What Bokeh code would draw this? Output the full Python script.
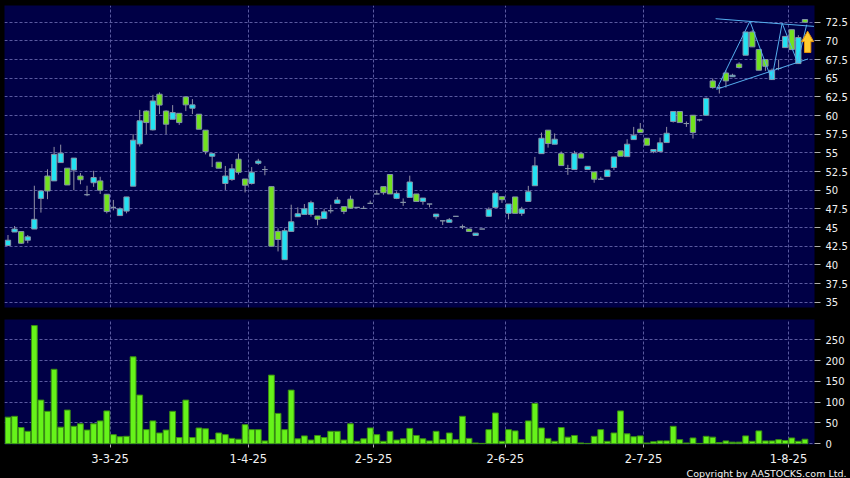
from bokeh.plotting import figure
from bokeh.layouts import column
from bokeh.models import (ColumnDataSource, FixedTicker, Range1d, Title,
                          NumeralTickFormatter, CustomJSTickFormatter,
                          GlobalInlineStyleSheet)
from bokeh.embed import file_html
from bokeh.resources import INLINE

# ---------------- data ----------------
opens = [42.6, 44.4, 44.46, 43.3, 44.8, 48.9, 51.9, 51.25, 53.7, 52.95,
         52.7, 51.9, 49.4, 51.0, 51.25, 49.46, 47.7, 46.6, 47.2, 50.54,
         56.2, 60.6, 58.08, 62.86, 60.6, 59.5, 60.3, 62.5, 60.98, 60.18,
         58.04, 54.55, 53.75, 50.9, 51.43, 54.15, 51.5, 50.9, 53.6, 52.77,
         50.48, 44.48, 40.7, 44.48, 46.45, 46.76, 46.76, 46.54, 46.2, 47.25,
         48.24, 47.8, 48.8, 47.7, 47.56, 48.24, 49.5, 50.48, 52.1, 48.9,
         48.37, 49.04, 49.5, 48.5, 48.15, 46.45, 45.9, 45.7, 46.5, 45.1,
         44.8, 43.94, 44.8, 46.5, 47.7, 49.13, 46.9, 49.1, 46.9, 48.5,
         50.6, 54.9, 58.04, 56.16, 54.9, 52.9, 52.77, 54.9, 52.77, 52.45,
         51.47, 51.83, 53.04, 55.27, 54.5, 56.78, 58.17, 56.96, 55.18, 55.18,
         56.38, 59.2, 60.54, 58.93, 60.04, 59.42, 60.04, 64.64, 63.75, 65.7,
         65.2, 66.9, 68.08, 71.2, 68.84, 67.5, 64.82, 66.3, 69.1, 71.5,
         66.96, 72.86]
highs = [44.0, 45.2, 44.5, 44.0, 50.6, 49.9, 52.8, 55.8, 56.1, 52.95,
         54.3, 52.3, 50.6, 52.6, 51.8, 49.46, 48.7, 47.7, 49.1, 57.5,
         60.76, 60.7, 62.77, 63.1, 60.7, 61.4, 60.3, 62.5, 62.2, 60.18,
         58.04, 54.9, 53.75, 53.25, 53.5, 54.9, 51.5, 53.1, 54.2, 53.25,
         50.48, 44.9, 44.9, 48.06, 47.7, 48.15, 48.6, 46.54, 47.5, 48.06,
         49.1, 47.8, 49.27, 47.7, 47.9, 48.6, 50.03, 50.48, 52.1, 49.85,
         48.9, 51.95, 49.5, 48.95, 48.15, 46.8, 45.9, 46.27, 46.5, 45.4,
         44.8, 44.25, 44.8, 47.7, 50.0, 49.13, 48.15, 49.1, 47.77, 50.58,
         54.46, 57.72, 58.04, 57.6, 55.18, 53.4, 55.27, 55.14, 53.2, 52.45,
         51.8, 52.7, 54.46, 55.27, 56.83, 58.48, 59.0, 56.96, 55.45, 57.05,
         58.48, 60.54, 60.54, 59.2, 60.04, 59.55, 62.4, 64.96, 64.06, 66.07,
         65.6, 67.14, 71.2, 71.43, 68.84, 67.5, 66.3, 67.5, 70.6, 71.5,
         70.76, 72.86]
lows = [42.6, 44.4, 42.8, 42.9, 44.8, 47.0, 48.8, 51.25, 53.7, 50.7,
        50.0, 50.8, 49.2, 50.45, 49.5, 46.9, 47.3, 46.6, 46.9, 50.54,
        55.85, 57.5, 58.0, 60.2, 57.5, 59.5, 58.75, 60.6, 60.2, 58.17,
        54.8, 53.1, 52.95, 50.04, 51.25, 52.1, 49.7, 50.76, 53.4, 52.0,
        42.5, 41.8, 40.7, 44.48, 46.45, 46.76, 46.45, 45.3, 46.2, 46.9,
        48.24, 46.8, 47.5, 47.7, 47.56, 48.24, 49.5, 49.4, 49.5, 48.8,
        47.9, 49.04, 48.5, 48.06, 47.7, 46.1, 45.33, 45.7, 46.5, 44.8,
        44.48, 43.94, 44.8, 46.5, 47.7, 48.3, 46.1, 46.9, 46.56, 48.5,
        50.6, 54.9, 55.7, 56.16, 53.3, 52.05, 52.77, 54.3, 52.77, 51.0,
        51.47, 51.83, 52.7, 54.55, 54.5, 56.78, 57.72, 56.03, 54.96, 55.18,
        56.38, 59.06, 59.06, 58.48, 56.92, 59.2, 60.04, 63.6, 62.95, 63.75,
        65.2, 66.3, 68.08, 69.2, 66.07, 65.98, 64.82, 66.07, 69.1, 68.84,
        66.96, 72.5]
closes = [43.3, 44.8, 42.9, 43.75, 46.1, 49.9, 49.9, 54.8, 54.96, 50.7,
          54.3, 51.4, 49.4, 51.7, 50.0, 47.14, 47.7, 47.5, 49.1, 56.7,
          59.3, 59.06, 61.96, 61.4, 58.84, 60.4, 59.06, 61.43, 61.43, 58.17,
          55.18, 54.9, 52.95, 51.9, 52.86, 52.4, 50.67, 52.4, 53.9, 52.77,
          42.5, 43.4, 44.57, 45.77, 46.85, 47.5, 48.33, 46.1, 47.1, 47.25,
          48.7, 47.16, 47.6, 47.7, 47.56, 48.24, 49.5, 49.67, 49.5, 49.58,
          48.37, 51.1, 48.5, 48.95, 48.15, 46.8, 45.9, 46.04, 46.5, 45.1,
          44.48, 44.25, 44.8, 47.4, 49.63, 48.73, 48.15, 46.9, 47.45, 49.8,
          53.26, 56.96, 56.25, 56.83, 53.3, 52.9, 54.9, 54.3, 53.2, 51.47,
          51.47, 52.7, 54.46, 54.55, 56.16, 57.36, 57.72, 56.03, 55.45, 56.34,
          57.63, 60.54, 59.06, 58.93, 57.72, 59.42, 62.3, 63.75, 63.75, 64.64,
          65.4, 66.43, 71.2, 69.2, 66.07, 66.6, 66.07, 66.3, 70.6, 68.84,
          70.45, 72.5]
volumes = [64, 66, 39, 30, 284, 105, 78, 179, 40, 81,
           42, 48, 33, 48, 55, 79, 22, 17, 18, 209,
           117, 34, 55, 26, 33, 78, 15, 105, 15, 38,
           36, 10, 26, 22, 13, 11, 46, 34, 34, 7,
           165, 73, 34, 129, 12, 19, 9, 20, 15, 30,
           30, 9, 48, 6, 12, 38, 22, 6, 30, 9,
           12, 37, 20, 12, 7, 30, 10, 26, 10, 66,
           13, 2, 1, 34, 74, 6, 34, 31, 10, 55,
           97, 38, 13, 6, 39, 16, 20, 2, 1, 18,
           34, 6, 26, 79, 24, 17, 19, 2, 5, 7,
           7, 42, 10, 2, 14, 1, 18, 16, 3, 7,
           4, 4, 19, 6, 31, 7, 7, 10, 8, 14,
           6, 11]

date_labels = ["3-3-25", "1-4-25", "2-5-25", "2-6-25", "2-7-25", "1-8-25"]
date_index = [15, 36, 55, 75, 96, 118]          # trading-day index of each date
price_ticks = [35, 37.5, 40, 42.5, 45, 47.5, 50, 52.5, 55, 57.5, 60, 62.5,
               65, 67.5, 70, 72.5]
volume_ticks = [0, 50, 100, 150, 200, 250]

# drawn pattern (wedge) in trading-day index / price units
wedge_top_x = [107.44, 122.37]
wedge_top_y = [72.97, 71.94]
wedge_bot_x = [107.59, 121.46]
wedge_bot_y = [63.52, 67.58]
zigzag_x = [107.59, 112.65, 115.95, 117.54, 119.89, 121.26]
zigzag_y = [63.52, 72.63, 64.81, 72.37, 67.09, 72.17]

# signal arrow
arrow_x = 121.41
arrow_tip = 71.3
arrow_neck = 69.9
arrow_base = 68.45

# ---------------- styling ----------------
NAVY = "#000046"
GRID = "#5A5AA0"
CYAN = "#22E2F2"
GREEN = "#72E21E"
GRAY = "#9090A4"
TXT = "#F2F2F2"

n = len(opens)
xs = list(range(n))
body_top = [max(o, c) for o, c in zip(opens, closes)]
body_bot = [min(o, c) for o, c in zip(opens, closes)]
body_col = [CYAN if c > o else (GREEN if c < o else GRAY) for o, c in zip(opens, closes)]

src = ColumnDataSource(dict(x=xs, o=opens, h=highs, l=lows, c=closes,
                            top=body_top, bot=body_bot, col=body_col, v=volumes))

grid_pos = [d + 0.5 for d in date_index]
xr = Range1d(-0.53, 122.45)


def style_grid(fig, xt, yt):
    fig.xgrid.ticker = FixedTicker(ticks=xt)
    fig.ygrid.ticker = FixedTicker(ticks=yt)
    for g in (fig.xgrid, fig.ygrid):
        g.grid_line_color = GRID
        g.grid_line_dash = "3 2"
        g.grid_line_width = 1


def style_axis(ax, size, tick_out, standoff):
    ax.axis_line_color = None
    ax.major_tick_line_color = "#B0B0B0"
    ax.major_tick_out = tick_out
    ax.major_tick_in = 0
    ax.minor_tick_line_color = None
    ax.major_label_standoff = standoff
    ax.major_label_text_color = TXT
    ax.major_label_text_font = "DejaVu Sans"
    ax.major_label_text_font_size = size


# ---------------- price panel ----------------
p = figure(frame_width=810, frame_height=302, x_range=xr,
           y_range=Range1d(34.29, 74.74),
           output_backend="svg", toolbar_location=None,
           x_axis_location=None, y_axis_location="right",
           background_fill_color=NAVY, border_fill_color="black",
           outline_line_color=None,
           min_border_left=4, min_border_top=5, min_border_bottom=6,
           min_border_right=34)
style_grid(p, grid_pos, price_ticks)
ay = p.yaxis[0]
ay.ticker = FixedTicker(ticks=price_ticks)
ay.formatter = NumeralTickFormatter(format="0.[0]")
style_axis(ay, "10px", 6, 5)

p.segment(x0="x", y0="h", x1="x", y1="l", source=src, line_color=GRAY, line_width=1)
p.vbar(x="x", top="top", bottom="bot", width=0.8, source=src,
       fill_color="col", line_color="#8494A8", line_width=1)

p.line(wedge_top_x, wedge_top_y, line_color="#55AEEE", line_width=1)
p.line(wedge_bot_x, wedge_bot_y, line_color="#55AEEE", line_width=1)
p.line(zigzag_x, zigzag_y, line_color="#55AEEE", line_width=1)

hw, sw = 0.92, 0.48
p.patch([arrow_x, arrow_x + hw, arrow_x + sw, arrow_x + sw, arrow_x - sw, arrow_x - sw, arrow_x - hw],
        [arrow_tip, arrow_neck, arrow_neck, arrow_base, arrow_base, arrow_neck, arrow_neck],
        fill_color="#FFCC30", line_color="#E8940A", line_width=1)

# ---------------- volume panel ----------------
v = figure(frame_width=810, frame_height=125, x_range=xr,
           y_range=Range1d(-1.7, 298.6),
           output_backend="svg", toolbar_location=None,
           x_axis_location="below", y_axis_location="right",
           background_fill_color=NAVY, border_fill_color="black",
           outline_line_color=None,
           min_border_left=4, min_border_top=6, min_border_bottom=0,
           min_border_right=34)
style_grid(v, grid_pos, volume_ticks)

vy = v.yaxis[0]
vy.ticker = FixedTicker(ticks=volume_ticks)
style_axis(vy, "10px", 6, 5)

vx = v.xaxis[0]
vx.ticker = FixedTicker(ticks=grid_pos)
vx.formatter = CustomJSTickFormatter(
    args=dict(pos=grid_pos, labels=date_labels),
    code="""
        for (let i = 0; i < pos.length; i++) {
            if (Math.abs(pos[i] - tick) < 1e-6) { return labels[i]; }
        }
        return "";
    """)
style_axis(vx, "11.5px", 3, 6)

v.vbar(x="x", top="v", bottom=0, width=0.88, source=src,
       fill_color="#66F31A", line_color="#3A8E12", line_width=1)

v.add_layout(Title(text="Copyright by AASTOCKS.com Ltd.", align="right", offset=-32,
                   text_color=TXT, text_font="DejaVu Sans", text_font_size="9.5px",
                   text_font_style="normal", standoff=0), "below")

layout = column(p, v, stylesheets=[GlobalInlineStyleSheet(css="html, body { background: #000000; }")])

open("out.html", "w").write(file_html(layout, INLINE))
